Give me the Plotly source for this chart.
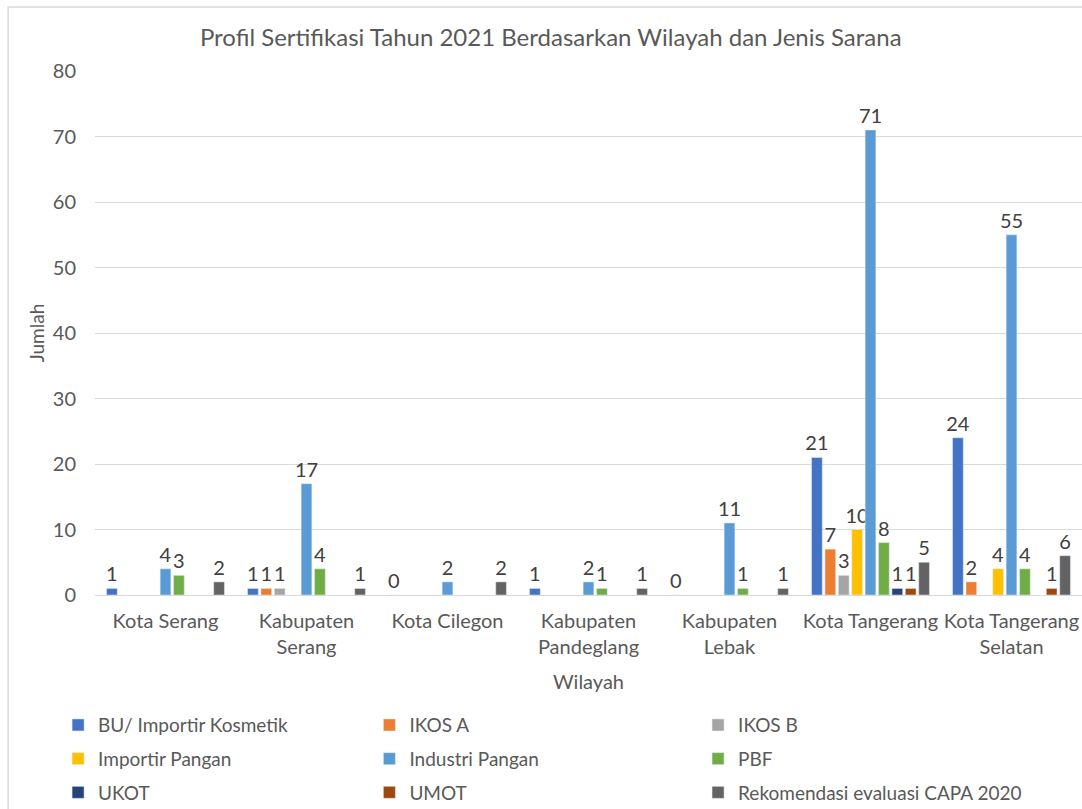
import plotly.graph_objects as go

wilayah = ["Kota Serang", "Kabupaten<br>Serang", "Kota Cilegon", "Kabupaten<br>Pandeglang",
           "Kabupaten<br>Lebak", "Kota Tangerang", "Kota Tangerang<br>Selatan"]

series_names = ["BU/ Importir Kosmetik", "IKOS A", "IKOS B", "Importir Pangan",
                "Industri Pangan", "PBF", "UKOT", "UMOT", "Rekomendasi evaluasi CAPA 2020"]

bu_importir_kosmetik = [1, 1, 0, 1, 0, 21, 24]
ikos_a = [None, 1, None, None, None, 7, 2]
ikos_b = [None, 1, None, None, None, 3, None]
importir_pangan = [None, None, None, None, None, 10, 4]
industri_pangan = [4, 17, 2, 2, 11, 71, 55]
pbf = [3, 4, None, 1, 1, 8, 4]
ukot = [None, None, None, None, None, 1, None]
umot = [None, None, None, None, None, 1, 1]
rekomendasi_capa = [2, 1, 2, 1, 1, 5, 6]

values = [bu_importir_kosmetik, ikos_a, ikos_b, importir_pangan, industri_pangan,
          pbf, ukot, umot, rekomendasi_capa]
colors = ["#4472C4", "#ED7D31", "#A5A5A5", "#FFC000", "#5B9BD5",
          "#70AD47", "#264478", "#9E480E", "#636363"]

FONT = "Lato, Carlito, Calibri, sans-serif"
GREY = "#595959"

# legend laid out as three columns (Excel style), one plotly legend per column
legend_ids = ["legend", "legend2", "legend3"]

fig = go.Figure()
for i, (name, vals, col) in enumerate(zip(series_names, values, colors)):
    fig.add_trace(go.Bar(
        x=wilayah, y=vals, name=name, marker_color=col,
        text=[("" if v is None else str(v)) for v in vals],
        textposition="outside", cliponaxis=False, constraintext="none",
        textfont=dict(size=20, color="#404040", family=FONT),
        legend=legend_ids[i % 3], legendgroup=name,
    ))

leg_common = dict(orientation="v", y=-0.212, yanchor="top", traceorder="grouped",
                  tracegroupgap=6, font=dict(size=19, color=GREY, family=FONT),
                  bgcolor="rgba(0,0,0,0)")

fig.update_layout(
    width=1082, height=809,
    paper_bgcolor="white", plot_bgcolor="white",
    font=dict(family=FONT, color=GREY),
    title=dict(text="Profil Sertifikasi Tahun 2021 Berdasarkan Wilayah dan Jenis Sarana",
               x=0.509, xanchor="center", y=0.954, yanchor="middle",
               font=dict(size=24, color=GREY)),
    margin=dict(l=95, r=0, t=71, b=214, autoexpand=False),
    barmode="group", bargap=0.145, bargroupgap=0.2,
    showlegend=True,
    legend=dict(x=-0.0374, xanchor="left", **leg_common),
    legend2=dict(x=0.278, xanchor="left", **leg_common),
    legend3=dict(x=0.611, xanchor="left", **leg_common),
    shapes=[dict(type="rect", xref="paper", yref="paper", x0=-0.088, x1=1.2,
                 y0=-0.6, y1=1.122, line=dict(color="#d9d9d9", width=1.5))],
)
fig.update_xaxes(showline=True, linecolor="#d9d9d9", linewidth=1,
                 ticks="outside", ticklen=8, tickcolor="rgba(0,0,0,0)",
                 tickfont=dict(size=20, color=GREY),
                 title=dict(text="Wilayah", font=dict(size=20, color=GREY), standoff=17))
fig.update_yaxes(range=[0, 80], dtick=10, showgrid=True, gridcolor="#d9d9d9", zeroline=False,
                 ticks="outside", ticklen=14, tickcolor="rgba(0,0,0,0)",
                 tickfont=dict(size=20, color=GREY),
                 title=dict(text="Jumlah", font=dict(size=19, color=GREY), standoff=3))

# drop the page's default body margin so the figure sits at the window's top-left
fig.write_html("out.html", config={"displayModeBar": False},
               post_script="document.body.style.margin='0px';")
